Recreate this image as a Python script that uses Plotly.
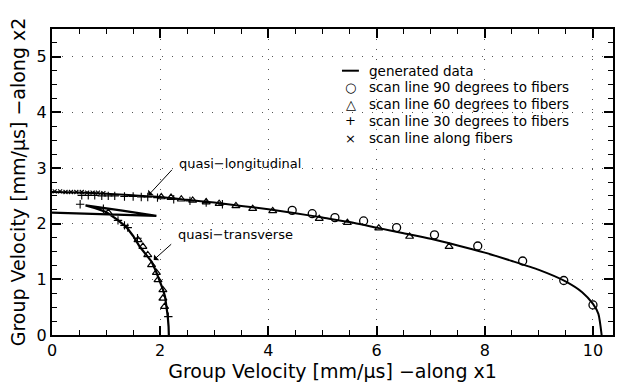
import plotly.graph_objects as go

# Generated data: quasi-longitudinal branch
ql_x = [0, 0.5, 1.0, 1.5, 2.0, 2.5, 3.0, 3.5, 4.0, 4.5, 5.0, 5.5, 6.0, 6.5, 7.0, 7.5, 8.0, 8.5, 9.0, 9.5, 9.8, 10.0, 10.1, 10.16]
ql_y = [2.57, 2.56, 2.54, 2.51, 2.48, 2.43, 2.38, 2.32, 2.26, 2.19, 2.11, 2.03, 1.93, 1.83, 1.73, 1.61, 1.48, 1.33, 1.17, 0.96, 0.77, 0.56, 0.38, 0.0]

# Generated data: quasi-transverse branch (with cusp)
qt_x = [0, 1.93, 1.3, 0.62, 0.8, 1.0, 1.2, 1.375, 1.5, 1.62, 1.75, 1.84, 1.92, 1.99, 2.05, 2.09, 2.12, 2.14, 2.155, 2.16]
qt_y = [2.20, 2.14, 2.235, 2.33, 2.28, 2.21, 2.08, 1.94, 1.78, 1.59, 1.43, 1.32, 1.15, 0.99, 0.82, 0.69, 0.50, 0.33, 0.15, 0.0]

# Scan line 90 degrees to fibers (circles)
s90_x = [4.44, 4.81, 5.23, 5.76, 6.37, 7.07, 7.87, 8.70, 9.46, 10.0]
s90_y = [2.24, 2.18, 2.11, 2.05, 1.93, 1.80, 1.60, 1.33, 0.98, 0.54]

# Scan line 60 degrees to fibers (triangles)
s60_x = [2.02, 2.20, 2.39, 2.60, 2.85, 3.09, 3.40, 3.71, 4.08, 4.94, 5.46, 6.04, 6.61, 7.34,
         1.04, 1.59, 1.68, 1.77, 1.84, 1.93, 1.96, 2.05, 2.05, 2.08]
s60_y = [2.48, 2.47, 2.44, 2.42, 2.39, 2.36, 2.32, 2.27, 2.23, 2.09, 2.02, 1.92, 1.77, 1.59,
         2.20, 1.71, 1.59, 1.44, 1.26, 1.12, 0.99, 0.81, 0.66, 0.51]

# Scan line 30 degrees to fibers (plus)
s30_x = [0.55, 0.67, 0.79, 0.92, 1.04, 1.16, 1.34, 1.50, 1.65, 1.77, 1.95, 2.25, 2.55, 2.85, 3.15,
         0.52, 0.95, 1.22, 1.34, 1.40, 1.58, 2.15]
s30_y = [2.51, 2.51, 2.51, 2.50, 2.50, 2.50, 2.49, 2.49, 2.48, 2.48, 2.47, 2.44, 2.41, 2.38, 2.35,
         2.35, 2.27, 2.06, 1.97, 1.93, 1.74, 0.33]

# Scan line along fibers (x marks)
s0_x = [0.05, 0.15, 0.25, 0.35, 0.45, 0.55, 0.65, 0.75, 0.85, 0.95]
s0_y = [2.58, 2.58, 2.57, 2.57, 2.57, 2.57, 2.56, 2.56, 2.56, 2.55]

# Legend entries (symbol glyph, label)
legend_symbols = ["", "\u25cb", "\u25b3", "+", "\u00d7"]
legend_labels = ["generated data", "scan line 90 degrees to fibers", "scan line 60 degrees to fibers",
                 "scan line 30 degrees to fibers", "scan line along fibers"]

X_RANGE = [0, 10.37]
Y_RANGE = [0, 5.5]

FONT = "DejaVu Sans"
fig = go.Figure()

# invisible carrier trace so the dotted-grid overlay axes get drawn
fig.add_trace(go.Scatter(x=ql_x, y=ql_y, xaxis="x2", yaxis="y2", mode="lines",
                         line=dict(width=0, color="rgba(0,0,0,0)"), hoverinfo="skip", showlegend=False))

fig.add_trace(go.Scatter(x=ql_x, y=ql_y, mode="lines", name="generated data",
                         line=dict(color="black", width=2, shape="spline", smoothing=0.6)))
fig.add_trace(go.Scatter(x=qt_x, y=qt_y, mode="lines", name="generated data",
                         line=dict(color="black", width=2.2)))
fig.add_trace(go.Scatter(x=s90_x, y=s90_y, mode="markers", name="scan line 90 degrees to fibers",
                         marker=dict(symbol="circle-open", size=8, color="black", line=dict(width=1.3))))
fig.add_trace(go.Scatter(x=s60_x, y=s60_y, mode="markers", name="scan line 60 degrees to fibers",
                         marker=dict(symbol="triangle-up-open", size=7, color="black", line=dict(width=1.2))))
fig.add_trace(go.Scatter(x=s30_x, y=s30_y, mode="markers", name="scan line 30 degrees to fibers",
                         marker=dict(symbol="cross-thin-open", size=6, color="black", line=dict(width=1.1, color="black"))))
fig.add_trace(go.Scatter(x=s0_x, y=s0_y, mode="markers", name="scan line along fibers",
                         marker=dict(symbol="x-thin-open", size=4, color="black", line=dict(width=1.1, color="black"))))

fig.add_annotation(x=1.78, y=2.51, ax=25, ay=-27, text="", showarrow=True,
                   arrowhead=1, arrowsize=1.3, arrowwidth=1, arrowcolor="black")
fig.add_annotation(x=2.31, y=3.09, text="quasi\u2212longitudinal", showarrow=False,
                   xanchor="left", yanchor="middle", font=dict(family=FONT, size=13, color="black"))
fig.add_annotation(x=1.88, y=1.35, ax=19, ay=-17, text="", showarrow=True,
                   arrowhead=1, arrowsize=1.3, arrowwidth=1, arrowcolor="black")
fig.add_annotation(x=2.30, y=1.80, text="quasi\u2212transverse", showarrow=False,
                   xanchor="left", yanchor="middle", font=dict(family=FONT, size=13, color="black"))

# Manual legend (paper coordinates)
PL, PW, PB, PH = 52, 563, 335, 306
def px2paper(px, py):
    return (px - PL) / PW, (PB - py) / PH

row_py = [70.7, 87.3, 104.0, 120.7, 138.3]
for sym, lab, py in zip(legend_symbols, legend_labels, row_py):
    tx, ty = px2paper(368, py)
    fig.add_annotation(x=tx, y=ty, xref="paper", yref="paper", text=lab, showarrow=False,
                       xanchor="left", yanchor="middle", font=dict(family=FONT, size=13.5, color="black"))
    if sym:
        sx, sy = px2paper(352, py)
        fig.add_annotation(x=sx, y=sy, xref="paper", yref="paper", text=sym, showarrow=False,
                           xanchor="center", yanchor="middle", font=dict(family=FONT, size=13, color="black"))
    else:
        x0, y0 = px2paper(343, py)
        x1, _ = px2paper(360, py)
        fig.add_shape(type="line", xref="paper", yref="paper", x0=x0, x1=x1, y0=y0, y1=y0,
                      line=dict(color="black", width=2))

tick_common = dict(
    showline=True, linecolor="black", linewidth=2, mirror="ticks",
    ticks="inside", ticklen=9, tickwidth=1.5, tickcolor="black",
    showgrid=False, zeroline=False, tickfont=dict(family=FONT, size=16, color="black"),
)
grid_common = dict(
    showline=False, ticks="", showticklabels=False, zeroline=False,
    showgrid=True, gridcolor="#555555", gridwidth=1, griddash="1px,9px",
)

fig.update_layout(
    width=621, height=385,
    margin=dict(l=52, r=6, t=29, b=50),
    paper_bgcolor="white", plot_bgcolor="white",
    font=dict(family=FONT, color="black"),
    showlegend=False,
    xaxis=dict(range=X_RANGE, dtick=2, tick0=0,
               minor=dict(dtick=0.5, ticks="inside", ticklen=5, tickwidth=1.2, tickcolor="black", showgrid=False),
               title=dict(text="Group Velocity [mm/\u03bcs] \u2212along x1", standoff=4,
                          font=dict(family=FONT, size=19, color="black")),
               **tick_common),
    yaxis=dict(range=Y_RANGE, dtick=1, tick0=0,
               minor=dict(dtick=0.25, ticks="inside", ticklen=5, tickwidth=1.2, tickcolor="black", showgrid=False),
               title=dict(text="Group Velocity [mm/\u03bcs] \u2212along x2", standoff=6,
                          font=dict(family=FONT, size=19, color="black")),
               **tick_common),
    xaxis2=dict(range=X_RANGE, dtick=2, tick0=0, overlaying="x", anchor="y2", **grid_common),
    yaxis2=dict(range=Y_RANGE, dtick=1, tick0=0, overlaying="y", anchor="x2", **grid_common),
)

fig.write_html("out.html")
